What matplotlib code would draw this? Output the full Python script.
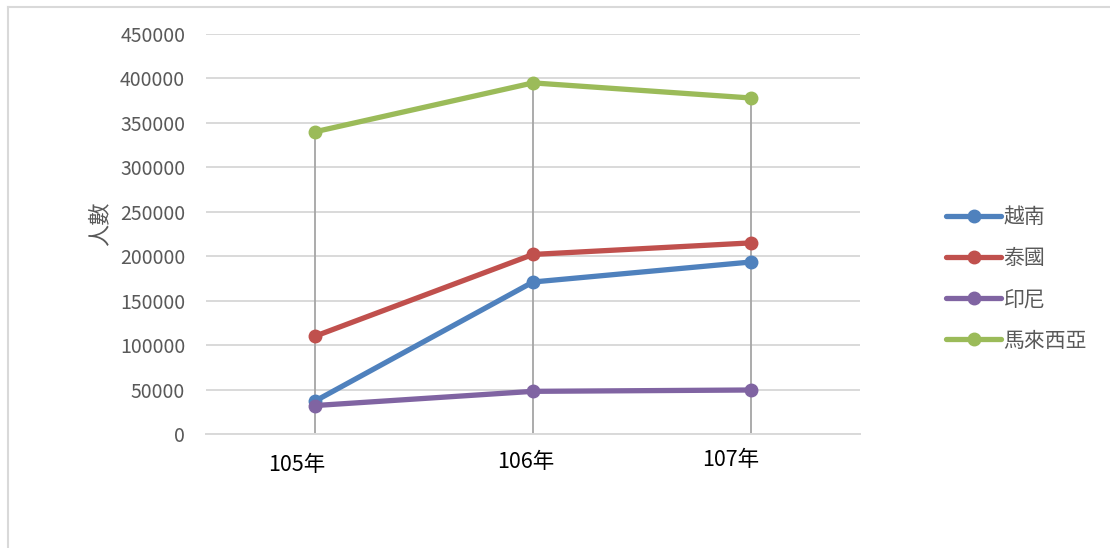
import matplotlib
matplotlib.use("Agg")
import matplotlib.pyplot as plt
import matplotlib.transforms as mtransforms
from matplotlib.lines import Line2D
import numpy as np

plt.rcParams['font.family'] = ['Noto Sans CJK TC', 'DejaVu Sans']

years = ['105年', '106年', '107年']
vietnam = [37000, 171000, 193500]
thailand = [110000, 202000, 215000]
indonesia = [32000, 48000, 49500]
malaysia = [340000, 395000, 378000]

series = [
    ('越南', vietnam, '#4f81bd'),
    ('泰國', thailand, '#c0504d'),
    ('印尼', indonesia, '#8064a2'),
    ('馬來西亞', malaysia, '#9bbb59'),
]

fig = plt.figure(figsize=(11.1, 5.48), dpi=100)
ax = fig.add_axes([206 / 1110, 1 - 434 / 548, 654 / 1110, 400 / 548])

x = np.arange(len(years)) + 0.5

# drop lines from highest point down to the axis
tops = np.max([s[1] for s in series], axis=0)
ax.vlines(x, 0, tops, color='#a5a5a5', lw=1.3, zorder=2)

for name, vals, col in series:
    ax.plot(x, vals, color=col, lw=3.8, marker='o', ms=9, label=name,
            solid_capstyle='round', zorder=3)

ax.set_xlim(0, 3)
ax.set_ylim(0, 450000)
ax.set_yticks(np.arange(0, 450001, 50000))
ax.set_xticks(x)
ax.set_xticklabels(years, fontsize=15.5, color='#000000')
ax.tick_params(axis='y', labelsize=14, labelcolor='#595959', length=0, pad=15)
ax.tick_params(axis='x', length=0, pad=13)
ax.grid(axis='y', color='#d9d9d9', lw=1.4)
ax.set_axisbelow(True)
for sp in ['top', 'right', 'left']:
    ax.spines[sp].set_visible(False)
ax.spines['bottom'].set_color('#d9d9d9')
ax.spines['bottom'].set_linewidth(1.4)

ax.set_ylabel('人數', fontsize=16, color='#595959')
ax.yaxis.set_label_coords(-0.145, 0.525)

# category labels sit a little off-centre in the original
for lab, (dx, dy) in zip(ax.get_xticklabels(), [(-18, -2), (-7, 1), (-20, 3)]):
    lab.set_transform(lab.get_transform() +
                      mtransforms.ScaledTranslation(dx / 100, dy / 100, fig.dpi_scale_trans))

leg = ax.legend(loc='center left', bbox_to_anchor=(1.103, 0.3875), frameon=False,
                fontsize=15, handlelength=2.65, handletextpad=0.1,
                labelspacing=0.92, labelcolor='#595959')

# chart area border (only top and left edges visible)
fig.add_artist(Line2D([7.5 / 1110, 7.5 / 1110], [0, 1 - 6.5 / 548],
                      transform=fig.transFigure, color='#d9d9d9', lw=1.5))
fig.add_artist(Line2D([7.5 / 1110, 1], [1 - 6.5 / 548, 1 - 6.5 / 548],
                      transform=fig.transFigure, color='#d9d9d9', lw=1.5))

fig.savefig('out.png', dpi=100)
